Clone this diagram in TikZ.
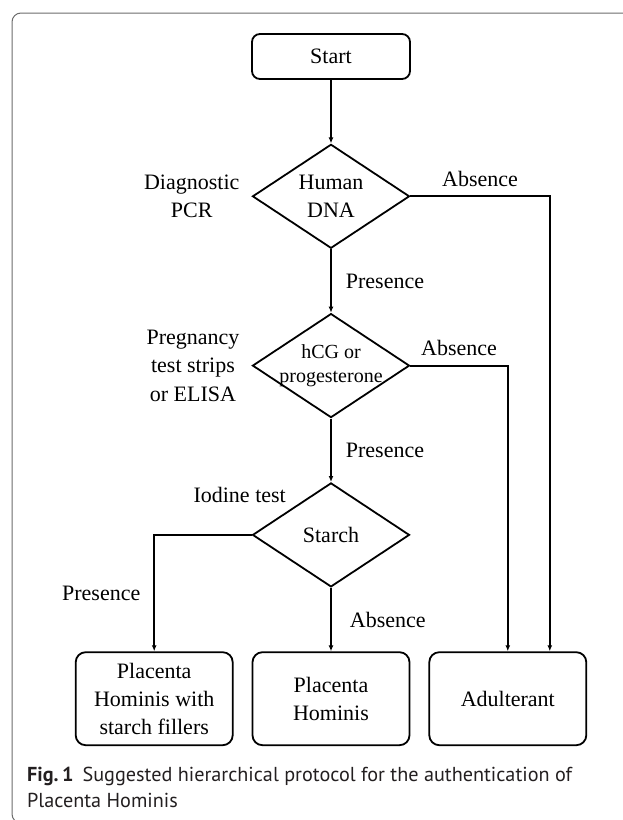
\documentclass[tikz,border=0pt]{standalone}
\usepackage{fontspec}
\setmainfont{Liberation Serif}
\newfontfamily\capfont{PT Sans}
\usetikzlibrary{positioning, arrows.meta, shapes.geometric}
\usepackage{xcolor}
\definecolor{frameGray}{HTML}{6B6B6B}
\definecolor{captionBlack}{HTML}{231F20}

\begin{document}
\begin{tikzpicture}[
    x=1pt, y=-1pt,
    node distance=63.5pt,
    every node/.style={font=\fontsize{22}{28}\selectfont},
    terminal/.style={draw, rounded corners=8pt, line width=1.8pt, minimum width=158pt, minimum height=45pt},
    result/.style={draw, rounded corners=10pt, line width=1.8pt, minimum width=157pt, minimum height=93pt, align=center},
    decision/.style={diamond, draw, line width=1.8pt, shape aspect=1.5, minimum width=157pt, minimum height=104pt, inner sep=-6pt, align=center},
    method/.style={align=center, inner sep=0pt},
    answer/.style={inner sep=0pt},
    every edge/.style={draw, line width=1.8pt, -{Latex[length=6pt,width=5pt]}},
    elbow/.style={to path={-| (\tikztotarget) \tikztonodes}}
]
    \useasboundingbox (0,0) rectangle (622,820);
    \draw[frameGray, line width=1pt, rounded corners=9pt] (640,13) -- (12,13) -- (12,823) -- (640,823);

    \node[terminal] (start) at (331,56.5) {Start};
    \node[decision, below=of start] (dna) {Human\\DNA};
    \node[decision, below=of dna, font=\fontsize{20}{24}\selectfont] (hcg) {hCG or\\progesterone};
    \node[decision, below=of hcg] (starch) {Starch};
    \node[result, below=of starch] (pure) {Placenta\\Hominis};
    \node[result, left=18pt of pure] (filler) {Placenta\\Hominis with\\starch fillers};
    \node[result, right=18pt of pure] (adult) {Adulterant};

    % test methods beside the decisions
    \node[method, left=12pt of dna] (pcr) {Diagnostic\\PCR};
    \node[method, left=12pt of hcg, font=\fontsize{22}{28.5}\selectfont] (strip) {Pregnancy\\test strips\\or ELISA};
    \node[answer, left=45pt of starch.north, yshift=-13pt] (iodine) {Iodine test};

    \path (start) edge (dna)
          (dna) edge node[answer, right=14pt]{Presence} (hcg)
          (hcg) edge node[answer, right=14pt]{Presence} (starch)
          (starch) edge node[answer, right=18pt]{Absence} (pure)
          (dna) edge[elbow] node[answer, pos=0.25, above=9pt]{Absence} ([xshift=42pt]adult.north)
          (hcg) edge[elbow] node[answer, pos=0.25, above=9pt]{Absence} (adult)
          (starch) edge[elbow] node[answer, pos=0.75, left=13pt]{Presence} (filler);

    \node[anchor=base west, inner sep=0pt, text=captionBlack, font=\capfont\fontsize{20.2}{26}\selectfont] (cap1) at (27,781) {\textbf{Fig.\,1}\hspace{0.45em}Suggested hierarchical protocol for the authentication of};
    \node[anchor=base west, inner sep=0pt, text=captionBlack, font=\capfont\fontsize{20.2}{26}\selectfont] (cap2) at (27,807) {Placenta Hominis};
\end{tikzpicture}
\end{document}
